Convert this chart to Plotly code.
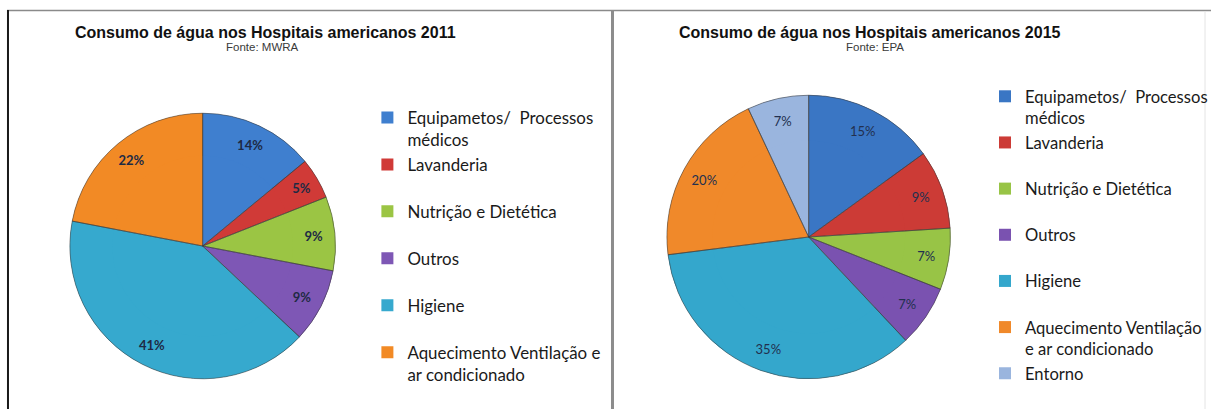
import plotly.graph_objects as go

# ---- data ----
categories_2011 = ["Equipametos/  Processos médicos", "Lavanderia", "Nutrição e Dietética",
                   "Outros", "Higiene", "Aquecimento Ventilação e ar condicionado"]
values_2011 = [14, 5, 9, 9, 41, 22]

categories_2015 = ["Equipametos/  Processos médicos", "Lavanderia", "Nutrição e Dietética",
                   "Outros", "Higiene", "Aquecimento Ventilação e ar condicionado", "Entorno"]
values_2015 = [15, 9, 7, 7, 35, 20, 7]

# legend display text (wrapped like the original)
legend_2011 = ["Equipametos/  Processos<br>médicos", "Lavanderia<br>\u00a0", "Nutrição e Dietética<br>\u00a0",
               "Outros<br>\u00a0", "Higiene<br>\u00a0", "Aquecimento Ventilação e<br>ar condicionado"]
legend_2015 = ["Equipametos/  Processos<br>médicos\u200b", "Lavanderia<br>\u2009", "Nutrição e Dietética<br>\u2009",
               "Outros<br>\u2009", "Higiene<br>\u2009", "Aquecimento Ventilação<br>e ar condicionado", "Entorno"]

colors_2011 = ["#3F7FCF", "#D03A37", "#9BC544", "#7E57B5", "#36A9CE", "#F28A25"]
colors_2015 = ["#3A76C4", "#CC3B36", "#98C446", "#7A52B0", "#34A7CC", "#F0892A", "#9AB5DE"]

W, H = 1213, 409
EDGE = dict(color="rgba(60,60,60,0.55)", width=1)


def dom(cx, cy, r):
    return dict(x=[(cx - r) / W, (cx + r) / W], y=[(H - cy - r) / H, (H - cy + r) / H])


def add_pie(labels, values, names, colors, domain, legend, font):
    common = dict(labels=labels, values=values, sort=False, direction="clockwise",
                  rotation=0, domain=domain, legend=legend, customdata=names)
    # full pie (fill + legend)
    fig.add_trace(go.Pie(**common, marker=dict(colors=colors, line=dict(width=0)),
                         textinfo="none", showlegend=True,
                         hovertemplate="%{customdata}: %{value}%<extra></extra>"))
    # ring carrying the percentage labels near the rim
    fig.add_trace(go.Pie(**common, hole=0.68, marker=dict(colors=colors, line=dict(width=0)),
                         textposition="inside", insidetextorientation="horizontal",
                         texttemplate="%{percent:.0%}", textfont=font, showlegend=False,
                         hoverinfo="skip"))
    # slice outlines
    fig.add_trace(go.Pie(**common, marker=dict(colors=["rgba(0,0,0,0)"] * len(values), line=EDGE),
                         textinfo="none", showlegend=False, hoverinfo="skip"))


fig = go.Figure()
add_pie(legend_2011, values_2011, categories_2011, colors_2011, dom(203, 246, 133), "legend",
        dict(family="Lato", size=13, color="#1E2A44", weight="bold"))
add_pie(legend_2015, values_2015, categories_2015, colors_2015, dom(810, 237, 142), "legend2",
        dict(family="Lato", size=13, color="#22304F"))

fig.update_layout(
    width=W, height=H,
    margin=dict(l=0, r=0, t=0, b=0),
    paper_bgcolor="white", plot_bgcolor="white",
    legend=dict(x=(408 - 40) / W, y=1 - 100 / H, xanchor="left", yanchor="top",
                font=dict(family="Lato", size=16.9, color="#1a1a1a"), valign="top",
                traceorder="normal", bgcolor="rgba(0,0,0,0)"),
    legend2=dict(x=(1027 - 40) / W, y=1 - 79 / H, xanchor="left", yanchor="top",
                 font=dict(family="Lato", size=16.6, color="#1a1a1a"), valign="top",
                 traceorder="normal", bgcolor="rgba(0,0,0,0)"),
    annotations=[
        dict(text="<b>Consumo de água nos Hospitais americanos 2011</b>", x=266 / W, y=1 - 32 / H,
             xref="paper", yref="paper", showarrow=False, xanchor="center", yanchor="middle",
             font=dict(family="Liberation Sans", size=16, color="#111111")),
        dict(text="Fonte: MWRA", x=263 / W, y=1 - 46.5 / H,
             xref="paper", yref="paper", showarrow=False, xanchor="center", yanchor="middle",
             font=dict(family="Liberation Sans", size=11.5, color="#3a3a3a")),
        dict(text="<b>Consumo de água nos Hospitais americanos 2015</b>", x=871 / W, y=1 - 32 / H,
             xref="paper", yref="paper", showarrow=False, xanchor="center", yanchor="middle",
             font=dict(family="Liberation Sans", size=16, color="#111111")),
        dict(text="Fonte: EPA", x=876 / W, y=1 - 46.5 / H,
             xref="paper", yref="paper", showarrow=False, xanchor="center", yanchor="middle",
             font=dict(family="Liberation Sans", size=11.5, color="#3a3a3a")),
    ],
    shapes=[
        dict(type="line", xref="paper", yref="paper", x0=7 / W, x1=1, y0=1 - 10.5 / H, y1=1 - 10.5 / H,
             line=dict(color="#8a8a8a", width=1.5)),
        dict(type="line", xref="paper", yref="paper", x0=8 / W, x1=8 / W, y0=0, y1=1 - 10 / H,
             line=dict(color="#1a1a1a", width=2)),
        dict(type="line", xref="paper", yref="paper", x0=613.5 / W, x1=613.5 / W, y0=0, y1=1 - 10 / H,
             line=dict(color="#8c8c8c", width=3)),
        dict(type="line", xref="paper", yref="paper", x0=1207 / W, x1=1207 / W, y0=0, y1=1 - 12 / H,
             line=dict(color="#e4e4e4", width=1)),
    ],
)

fig.write_html("out.html", config={"displayModeBar": False},
               post_script="document.body.style.margin='0';document.body.style.padding='0';"
                           "document.body.style.overflow='hidden';")
